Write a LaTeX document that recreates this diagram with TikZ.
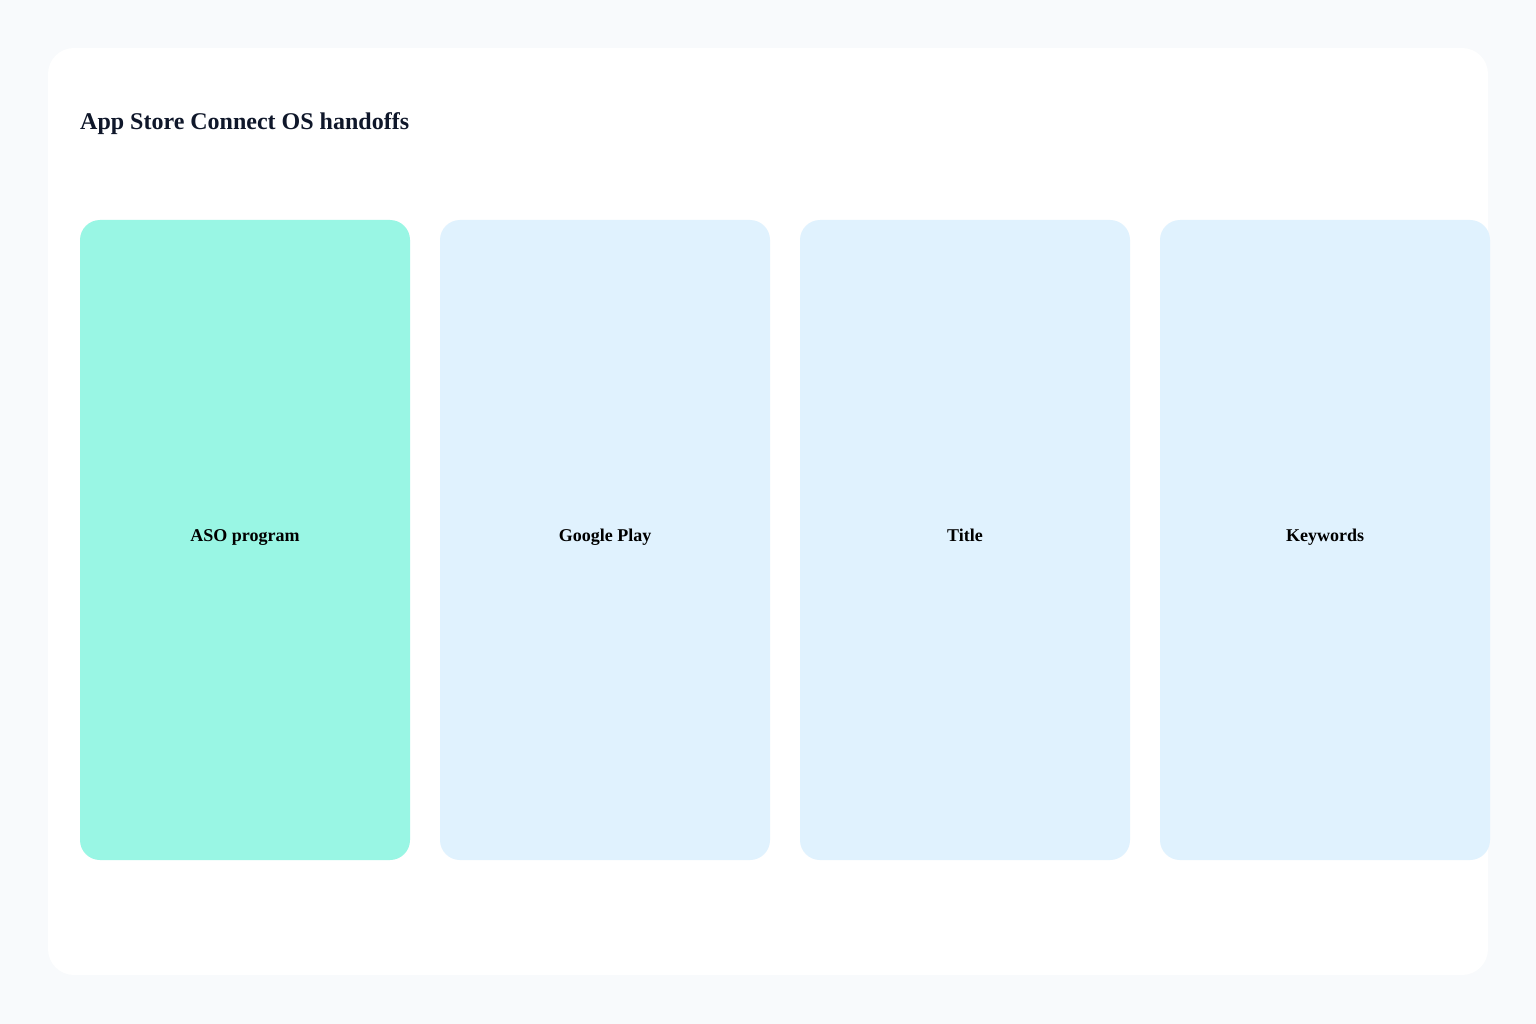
\documentclass[tikz,border=0pt]{standalone}
\usepackage{fontspec}
\setmainfont{Liberation Serif}
\usepackage{tikz}

\definecolor{pagebg}{HTML}{F8FAFC}
\definecolor{tealcard}{HTML}{99F6E4}
\definecolor{skycard}{HTML}{E0F2FE}
\definecolor{titleink}{HTML}{0F172A}

\begin{document}
\begin{tikzpicture} [x=1pt,y=-1pt,
	card/.style={rounded corners=20pt,minimum width=330pt,minimum height=640pt,inner sep=0pt,
		text height=8pt,text depth=6pt,
		font=\fontsize{18}{20}\selectfont\bfseries,text=black}]
			\useasboundingbox[fill=pagebg] (0,0) rectangle (1536,1024);
			\fill[white,rounded corners=26pt] (48,48) rectangle (1488,975);
			
			\node[anchor=base west,text=titleink,font=\fontsize{24}{28}\selectfont\bfseries,inner sep=0pt] (title) at (80,130) {App Store Connect OS handoffs};
			
			\node[card,fill=tealcard] (aso) at (245,540) {ASO program};
			\foreach \name/\x/\lbl in {gplay/605/Google Play,titlecard/965/Title,keywords/1325/Keywords}
			\node[card,fill=skycard] (\name) at (\x,540) {\lbl};
			\end{tikzpicture}
\end{document}
